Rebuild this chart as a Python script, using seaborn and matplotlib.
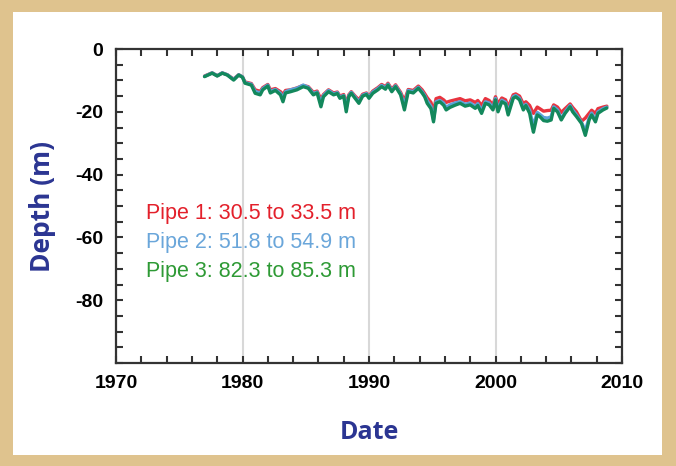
import pandas as pd
import matplotlib
matplotlib.use("Agg")
import matplotlib.pyplot as plt
import seaborn as sns
from matplotlib.patches import Rectangle
from matplotlib.ticker import MultipleLocator

# dates (decimal years) of the water level readings
years = [1977.0, 1977.6, 1978.0, 1978.4, 1978.8, 1979.3, 1979.7, 1980.0, 1980.2, 1980.7,
         1981.0, 1981.4, 1981.6, 1982.0, 1982.2, 1982.6, 1983.0, 1983.2, 1983.4, 1983.8,
         1984.3, 1984.8, 1985.2, 1985.6, 1985.9, 1986.2, 1986.4, 1986.8, 1987.2, 1987.5,
         1987.7, 1988.0, 1988.2, 1988.4, 1988.6, 1988.9, 1989.2, 1989.5, 1989.8, 1990.0,
         1990.3, 1990.7, 1991.0, 1991.3, 1991.5, 1991.8, 1992.1, 1992.5, 1992.8, 1993.1,
         1993.5, 1993.9, 1994.2, 1994.4, 1994.6, 1994.9, 1995.1, 1995.3, 1995.6, 1995.9,
         1996.1, 1996.4, 1996.8, 1997.2, 1997.6, 1998.0, 1998.4, 1998.6, 1998.9, 1999.2,
         1999.5, 1999.8, 2000.0, 2000.2, 2000.5, 2000.8, 2001.0, 2001.4, 2001.6, 2001.9,
         2002.2, 2002.4, 2002.7, 2002.9, 2003.0, 2003.3, 2003.5, 2003.8, 2004.1, 2004.4,
         2004.6, 2004.9, 2005.2, 2005.5, 2005.9, 2006.1, 2006.4, 2006.8, 2007.1, 2007.4,
         2007.6, 2007.9, 2008.1, 2008.5, 2008.8]

pipe1 = [-8.6, -7.6, -8.5, -7.6, -8.2, -9.6, -8.2, -8.9, -10.5, -11.0,
         -13.0, -13.5, -12.3, -11.3, -13.0, -12.6, -13.6, -14.5, -13.2, -13.0,
         -12.4, -11.6, -12.0, -13.8, -13.4, -16.0, -14.5, -13.0, -14.0, -13.7,
         -15.0, -14.5, -17.5, -14.6, -13.6, -15.0, -16.2, -14.4, -14.0, -15.0,
         -13.4, -12.3, -11.3, -12.0, -10.9, -12.8, -11.4, -13.8, -16.5, -12.9,
         -13.2, -11.8, -13.0, -14.2, -15.5, -17.0, -20.0, -15.8, -15.4, -16.2,
         -17.0, -16.6, -16.2, -15.8, -16.5, -16.2, -17.0, -16.4, -18.0, -15.8,
         -16.4, -17.8, -15.2, -17.5, -15.6, -16.2, -18.5, -14.6, -14.3, -15.0,
         -17.5, -16.8, -18.0, -19.8, -20.5, -18.5, -19.0, -19.8, -19.6, -19.5,
         -17.8, -18.5, -20.2, -19.0, -17.5, -18.6, -20.0, -23.0, -22.0, -20.5,
         -19.5, -20.5, -19.0, -18.5, -18.2]

pipe2 = [-8.7, -7.6, -8.5, -7.6, -8.2, -9.7, -8.2, -8.9, -10.7, -11.2,
         -13.5, -14.0, -12.6, -11.5, -13.5, -12.9, -14.1, -15.6, -13.6, -13.0,
         -12.5, -11.5, -12.2, -14.2, -13.7, -17.2, -14.8, -13.2, -14.3, -13.9,
         -15.3, -14.8, -18.8, -14.9, -13.8, -15.3, -16.8, -14.7, -14.2, -15.3,
         -13.7, -12.6, -11.6, -12.4, -11.2, -13.2, -11.7, -14.2, -18.0, -13.2,
         -13.6, -12.2, -13.6, -14.8, -16.5, -18.3, -22.6, -16.8, -16.4, -17.2,
         -18.6, -17.8, -17.2, -16.8, -17.6, -17.2, -18.3, -17.4, -19.6, -16.8,
         -17.2, -18.8, -15.7, -19.2, -16.3, -17.0, -20.2, -15.2, -14.8, -15.7,
         -18.7, -17.6, -19.5, -23.0, -24.5, -20.2, -20.8, -21.8, -22.0, -21.6,
         -18.4, -19.4, -22.2, -20.0, -18.0, -19.4, -21.0, -23.4, -26.0, -22.0,
         -20.4, -22.6, -20.0, -19.0, -18.5]

pipe3 = [-8.8, -7.7, -8.6, -7.7, -8.3, -9.9, -8.3, -9.0, -10.9, -11.5,
         -14.1, -14.6, -13.0, -11.8, -14.0, -13.2, -14.6, -16.8, -14.0, -13.6,
         -13.0, -12.0, -12.5, -14.6, -14.0, -18.4, -15.2, -13.6, -14.6, -14.2,
         -15.7, -15.0, -20.0, -15.2, -14.1, -15.7, -17.3, -15.0, -14.5, -15.7,
         -14.1, -13.0, -12.0, -12.8, -11.5, -13.6, -12.0, -14.6, -19.4, -13.6,
         -14.0, -12.5, -14.0, -15.2, -17.3, -19.0, -23.2, -17.3, -16.8, -17.9,
         -19.4, -18.6, -17.9, -17.3, -18.2, -17.8, -18.9, -18.0, -20.5, -17.3,
         -17.8, -19.4, -16.2, -20.0, -16.8, -17.5, -21.0, -15.7, -15.2, -16.2,
         -19.4, -18.0, -20.5, -24.7, -26.5, -21.0, -21.5, -22.8, -23.0, -22.6,
         -18.9, -20.0, -22.6, -20.5, -18.4, -20.0, -21.5, -23.7, -27.5, -22.6,
         -21.0, -23.2, -20.5, -19.4, -18.8]

labels = ["Pipe 1: 30.5 to 33.5 m", "Pipe 2: 51.8 to 54.9 m", "Pipe 3: 82.3 to 85.3 m"]
line_colors = ["#E8343F", "#5AA2D8", "#13885C"]
text_colors = ["#E3202B", "#6AA6DA", "#2E9A35"]

df = pd.concat([
    pd.DataFrame({"Date": years, "Depth": vals, "Pipe": lab})
    for lab, vals in zip(labels, [pipe1, pipe2, pipe3])
])

sns.set_style("ticks")
plt.rcParams["font.family"] = ["Liberation Sans", "DejaVu Sans"]
plt.rcParams["axes.unicode_minus"] = False

fig = plt.figure(figsize=(6.76, 4.66), dpi=100)
fig.patch.set_facecolor("#DFC38E")
fig.patches.append(Rectangle((13 / 676, 1 - 455 / 466), 649 / 676, 443 / 466,
                             transform=fig.transFigure, facecolor="white",
                             edgecolor="none", zorder=-5))

ax = fig.add_axes([116 / 676, 1 - 363 / 466, 506 / 676, 314 / 466])
sns.lineplot(data=df, x="Date", y="Depth", hue="Pipe", palette=line_colors,
             linewidth=2.4, legend=False, ax=ax, zorder=3)

ax.set_xlim(1970, 2010)
ax.set_ylim(-100, 0)
ax.xaxis.set_major_locator(MultipleLocator(10))
ax.xaxis.set_minor_locator(MultipleLocator(2))
ax.yaxis.set_major_locator(MultipleLocator(20))
ax.yaxis.set_minor_locator(MultipleLocator(5))
ax.set_yticks([0, -20, -40, -60, -80])
ax.grid(axis="x", which="major", color="#D8D8D8", linewidth=1.5)

ax.tick_params(which="both", direction="in", top=True, right=True,
               color="#333333", width=1.5, length=5)
ax.tick_params(axis="both", which="major", labelsize=14, pad=9, labelcolor="black")
for lab in ax.get_xticklabels() + ax.get_yticklabels():
    lab.set_fontweight("bold")
for sp in ax.spines.values():
    sp.set_visible(True)
    sp.set_color("#333333")
    sp.set_linewidth(1.6)

ax.set_xlabel("Date", fontsize=18, fontweight="bold", color="#2B3592",
              family="Open Sans", labelpad=20)
ax.set_ylabel("Depth (m)", fontsize=19, fontweight="bold", color="#2B3592",
              family="Open Sans", labelpad=14)

for i, (lab, col) in enumerate(zip(labels, text_colors)):
    ax.text(0.06, 0.475 - i * 0.092, lab, color=col, fontsize=15.5,
            transform=ax.transAxes, va="center", ha="left")

fig.savefig("out.png", dpi=100, facecolor=fig.get_facecolor())
